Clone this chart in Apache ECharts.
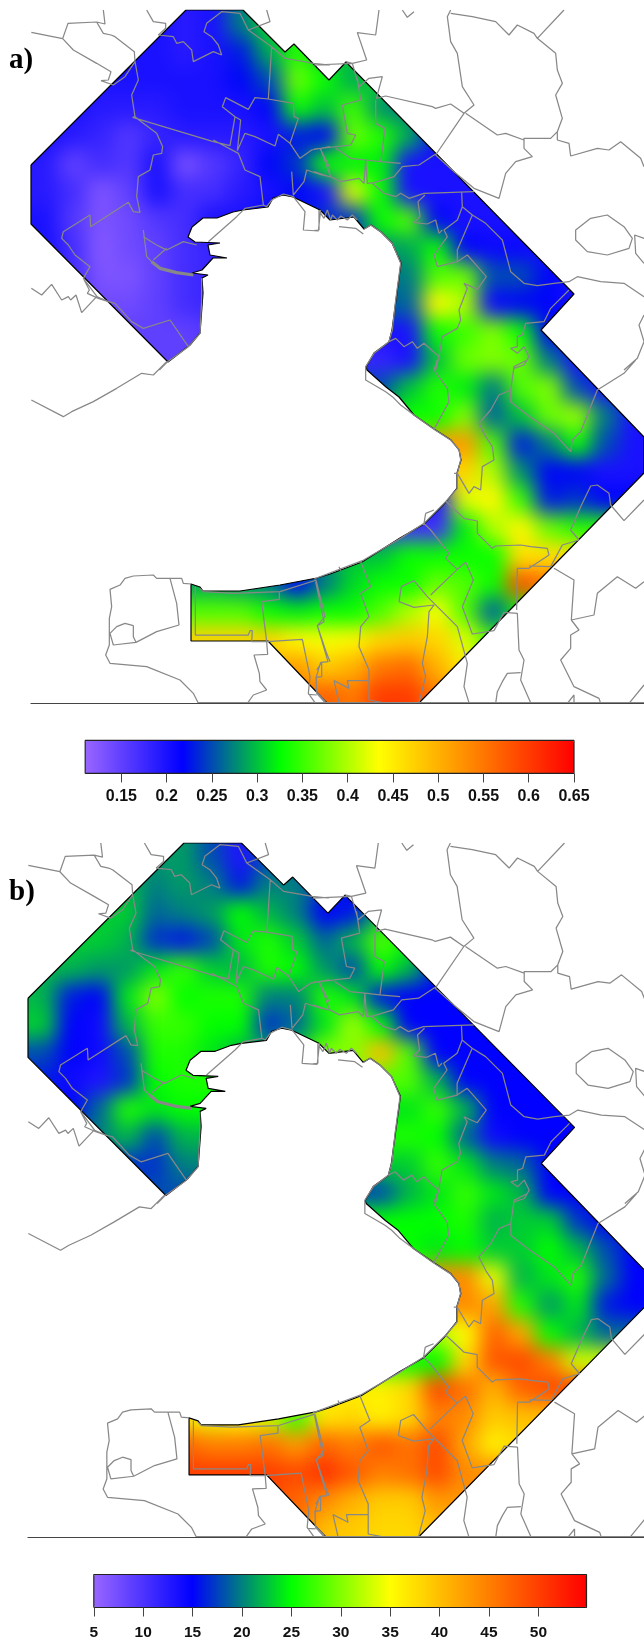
<!DOCTYPE html>
<html><head><meta charset="utf-8">
<style>html,body{margin:0;padding:0;background:#fff;overflow:hidden}#wrap{position:absolute;left:0;top:0;width:644px;height:1639px;overflow:hidden}#c{position:absolute;left:-100px;top:-100px;width:900px;height:1900px}</style>
<script src="https://cdn.jsdelivr.net/npm/echarts@6/dist/echarts.min.js"></script>
</head><body><div id="wrap"><div id="c"></div></div>
<script>
// ---- category axes of the coarse value grid (map px, cell centres)
const columnsX=[45,73,101,129,157,185,213,241,269,297,325,353,381,409,437,465,493,521,549,577,605,633];
const rowsY=[24,52,80,108,136,164,192,220,248,276,304,332,360,388,416,444,472,500,528,556,584,612,640,668,696];
// ---- panel a values
const a024=[.2,.2,.2,.2,.2,.19,.2,.27,.31,.33,.33,.33,.33,.33,.2,.2,.2,.2,.2,.2,.2,.2];
const a052=[.2,.2,.2,.2,.2,.19,.2,.23,.29,.34,.3,.3,.3,.25,.2,.2,.2,.2,.2,.2,.2,.2];
const a080=[.2,.2,.2,.2,.2,.2,.2,.22,.25,.37,.33,.29,.31,.27,.2,.2,.2,.2,.2,.2,.2,.2];
const a108=[.2,.2,.19,.19,.19,.2,.2,.2,.22,.33,.3,.35,.28,.27,.2,.2,.2,.2,.2,.2,.2,.2];
const a136=[.2,.19,.18,.16,.18,.19,.19,.19,.2,.23,.22,.37,.34,.29,.21,.2,.2,.2,.2,.2,.2,.2];
const a164=[.19,.15,.17,.16,.2,.135,.16,.18,.22,.24,.33,.32,.32,.2,.2,.2,.2,.2,.2,.2,.2,.2];
const a192=[.19,.17,.13,.15,.2,.17,.17,.19,.2,.22,.2,.42,.33,.2,.2,.2,.2,.2,.2,.2,.2,.2];
const a220=[.2,.16,.13,.14,.16,.17,.2,.2,.22,.23,.24,.24,.33,.36,.22,.2,.2,.2,.2,.2,.2,.2];
const a248=[.2,.17,.125,.14,.15,.17,.18,.18,.2,.22,.24,.25,.28,.29,.33,.22,.21,.21,.2,.2,.2,.2];
const a276=[.2,.17,.13,.13,.15,.17,.18,.18,.2,.22,.24,.25,.27,.27,.36,.37,.25,.25,.22,.2,.2,.2];
const a304=[.18,.17,.14,.14,.15,.17,.18,.18,.2,.22,.24,.25,.26,.26,.44,.4,.21,.22,.22,.2,.2,.2];
const a332=[.16,.15,.15,.15,.15,.15,.16,.16,.16,.18,.18,.18,.2,.2,.33,.35,.38,.33,.22,.2,.2,.2];
const a360=[.15,.15,.15,.15,.15,.15,.16,.16,.16,.18,.18,.18,.18,.2,.3,.37,.38,.37,.27,.2,.2,.2];
const a388=[.15,.15,.15,.15,.15,.15,.16,.16,.18,.2,.22,.25,.25,.3,.34,.32,.27,.36,.38,.25,.2,.2];
const a416=[.15,.15,.15,.15,.15,.15,.16,.16,.18,.2,.22,.25,.3,.33,.33,.38,.26,.3,.37,.39,.27,.2];
const a444=[.15,.15,.15,.15,.15,.15,.16,.16,.18,.2,.22,.25,.3,.4,.52,.52,.36,.23,.27,.33,.25,.2];
const a472=[.15,.15,.15,.15,.15,.15,.16,.16,.18,.2,.22,.25,.3,.4,.47,.47,.4,.28,.22,.22,.2,.2];
const a500=[.15,.15,.15,.15,.15,.15,.16,.16,.18,.2,.22,.25,.25,.25,.2,.42,.44,.35,.23,.24,.22,.22];
const a528=[.15,.15,.15,.15,.15,.15,.16,.16,.18,.2,.22,.25,.17,.17,.17,.32,.4,.44,.37,.34,.34,.34];
const a556=[.25,.25,.25,.25,.25,.25,.25,.25,.25,.25,.28,.3,.3,.33,.33,.33,.33,.46,.46,.46,.46,.46];
const a584=[.29,.29,.29,.29,.29,.29,.29,.28,.27,.22,.27,.31,.33,.33,.37,.36,.33,.58,.55,.55,.55,.55];
const a612=[.36,.36,.36,.36,.36,.36,.36,.36,.33,.32,.33,.33,.36,.4,.43,.36,.26,.33,.33,.33,.33,.33];
const a640=[.47,.47,.47,.47,.47,.47,.47,.47,.47,.44,.43,.44,.47,.48,.47,.42,.35,.35,.35,.35,.35,.35];
const a668=[.5,.5,.5,.5,.5,.5,.5,.5,.5,.52,.48,.5,.55,.56,.5,.45,.4,.4,.4,.4,.4,.4];
const a696=[.55,.55,.55,.55,.55,.55,.55,.55,.55,.55,.57,.55,.6,.6,.55,.5,.45,.45,.45,.45,.45,.45];
// ---- panel b values
const b024=[21,21,21,21,21,21,18,13,18,18,18,18,18,15,15,15,15,15,15,15,15,15];
const b052=[22,22,22,22,20,21,20,16,20,20,17,15,15,15,15,15,15,15,15,15,15,15];
const b080=[23,23,23,23,19,20,21,25,22,20,15,16,22,22,15,15,15,15,15,15,15,15];
const b108=[23,23,23,22,17,16,18,24,26,23,19,22,28,25,15,15,15,15,15,15,15,15];
const b136=[22,22,21,21,24,27,23,22,26,25,21,18,25,22,16,15,15,15,15,15,15,15];
const b164=[22,16,15,24,30,25,26,26,20,20,26,24,16,15,15,15,15,15,15,15,15,15];
const b192=[23,15,14,22,27,27,25,25,17,19,24,31,25,15,15,15,15,15,15,15,15,15];
const b220=[18,15,14,18,26,26,24,22,22,24,30,30,40,28,15,15,15,15,15,15,15,15];
const b248=[16,14,13,17,25,26,26,26,26,26,30,30,28,28,22,15,15,15,15,15,15,15];
const b276=[16,15,19,26,24,25,25,25,25,25,25,25,24,24,27,22,15,15,15,15,15,15];
const b304=[18,18,20,22,18,22,22,22,22,22,22,22,26,26,25,19,14,15,15,15,15,15];
const b332=[17,17,17,17,17,20,20,20,20,20,20,20,23,23,27,24,20,19,15,15,15,15];
const b360=[18,18,18,18,18,18,18,18,18,18,18,18,18,22,24,27,24,22,15,15,15,15];
const b388=[18,18,18,18,18,18,18,18,18,18,18,25,25,25,25,26,22,23,23,17,15,15];
const b416=[18,18,18,18,18,18,18,18,18,18,18,25,25,25,24,25,23,23,25,22,18,15];
const b444=[18,18,18,18,18,18,18,18,18,18,18,25,25,30,44,44,34,22,24,26,19,15];
const b472=[18,18,18,18,18,18,18,18,18,18,18,25,25,30,44,44,42,26,21,24,16,15];
const b500=[18,18,18,18,18,18,18,18,18,18,18,25,25,32,32,35,47,42,25,22,19,19];
const b528=[30,30,30,30,30,30,30,30,30,30,30,30,25,25,25,38,48,49,45,33,33,33];
const b556=[36,36,36,36,36,36,36,36,36,36,36,36,36,38,49,46,41,47,49,49,49,49];
const b584=[37,37,37,37,37,37,34,35,33,27,37,38,36,38,45,44,39,40,40,40,40,40];
const b612=[47,47,47,47,47,47,45,45,46,43,47,45,48,46,49,42,36,38,38,38,38,38];
const b640=[50,50,50,50,50,50,50,50,50,49,51,48,45,46,49,44,44,44,44,44,44,44];
const b668=[49,49,49,49,49,49,49,49,49,47,44,41,39,39,43,43,43,43,43,43,43,43];
const b696=[46,46,46,46,46,46,46,46,46,46,40,39,38,38,40,40,40,40,40,40,40,40];
const panelAValues=[a024,a052,a080,a108,a136,a164,a192,a220,a248,a276,a304,a332,a360,a388,a416,a444,a472,a500,a528,a556,a584,a612,a640,a668,a696];
const panelBValues=[b024,b052,b080,b108,b136,b164,b192,b220,b248,b276,b304,b332,b360,b388,b416,b444,b472,b500,b528,b556,b584,b612,b640,b668,b696];
// ---- colour bar scales
const ticksA=[0.15,0.2,0.25,0.3,0.35,0.4,0.45,0.5,0.55,0.6,0.65];
const ticksB=[5,10,15,20,25,30,35,40,45,50];
const palette=['#9966FF','#0000FF','#00FF00','#FFFF00','#FF8000','#FF0000'];
// ---- study area outline and coast, in map pixels
const regionOutline=[[31,165],[186,10],[243,10],[285,52],[294,44],[329,80],[346,62],[574,294],[541,330],[644,437],[644,473],[419,703],[327,703],[268,641],[191,641],[191,584],[200,587],[203,591],[240,591],[280,585],[317,578],[330,574],[362,562],[400,538],[424,524],[445,503],[457,488],[457,473],[461,460],[459,450],[451,440],[434,429],[414,415],[399,397],[386,387],[367,370],[366,367],[374,353],[389,342],[392,330],[396,300],[401,263],[392,243],[381,232],[371,225],[364,229],[354,217],[330,220],[320,210],[293,197],[283,195],[273,198],[268,207],[243,210],[233,212],[217,218],[203,218],[192,227],[188,237],[195,242],[220,243],[208,245],[210,255],[227,258],[213,258],[202,270],[192,273],[208,275],[202,278],[203,293],[200,333],[190,345],[168,362],[31,224],[31,165]];
// ---- grey boundaries, traced on four overlapping 3x tiles of the map
const tile1=[
[[94,97],[188,116],[204,70],[290,66],[315,72],[310,30]],
[[290,66],[310,100],[333,105],[345,110],[403,155],[405,185]],
[[188,116],[220,150],[290,190],[333,215],[325,240],[303,242],[340,255],[375,230],[405,185],[415,240],[395,285],[405,350],[398,352],[640,425],[690,437],[705,350],[667,320],[677,293],[745,328],[765,293],[805,297],[815,140],[855,175],[885,180],[940,190],[990,195]],
[[805,297],[880,310],[882,350],[895,355],[870,430],[835,403],[825,438],[765,410],[735,400],[712,452],[722,360],[705,350]],
[[405,350],[420,362],[470,400],[488,440],[485,460],[460,465],[450,510],[415,530],[410,590],[420,637],[400,635],[385,607],[272,680],[270,645],[190,695],[185,715],[205,735],[225,765],[270,800],[250,835],[295,895],[325,905],[345,910],[395,965],[430,985],[510,960],[565,1040]],
[[640,420],[715,460],[735,510],[780,530],[790,615]],
[[440,30],[460,65],[497,70],[497,85],[475,105],[520,110],[530,130],[550,125],[575,150],[580,185],[640,155],[665,165],[655,135],[635,110],[612,95],[620,70],[665,35],[720,40],[745,90],[810,65],[800,30]],
[[745,90],[815,140]],
[[875,515],[880,585],[912,545],[920,510],[965,525],[990,530]],
[[870,430],[900,475],[935,450],[990,440]],
[[960,445],[990,505]],
[[790,615],[800,620],[815,600],[850,582],[880,590],[915,635],[910,690],[955,693],[962,630]],
[[790,615],[735,625],[710,650],[625,725]],
[[430,690],[440,770],[460,790]],
[[430,710],[470,735],[490,745],[500,750],[550,725],[590,735]],
[[460,780],[500,745]],
[[94,865],[125,885],[155,853],[185,900],[205,890],[212,900],[228,885],[245,938],[290,890],[325,905]],
[[250,835],[268,870],[262,880],[295,895]],
[[605,835],[605,900],[600,1000],[565,1040],[503,1085],[478,1110]]];
const tile1Thick=[[[455,785],[480,805],[530,818],[580,825]]];
const tile2=[
[[195,30],[185,105],[130,98],[158,180],[115,190],[95,185]],
[[0,195],[115,190],[135,260],[165,235],[205,230],[187,295],[215,288],[355,320],[365,325],[410,312],[450,340],[365,465],[420,515],[480,565],[555,595],[560,590],[575,520],[605,485],[655,470],[630,445],[630,415],[710,415],[730,395],[745,355],[725,285],[745,250],[730,210],[725,160],[670,115],[750,30]],
[[265,30],[280,52],[300,35]],
[[130,235],[140,300],[85,315],[100,400],[125,405],[110,435],[20,445],[0,447]],
[[185,300],[185,370],[213,385],[200,485],[155,480],[160,550],[180,548],[240,530],[265,500],[315,495],[365,462]],
[[155,480],[110,475],[65,445]],
[[20,447],[50,530],[80,545],[135,535],[150,550],[155,480]],
[[200,485],[260,490]],
[[0,515],[45,530]],
[[175,550],[210,580],[245,590],[260,580],[285,595],[330,580],[480,575]],
[[443,578],[445,620],[475,645],[515,670],[565,720],[590,815],[630,850],[670,857],[720,850],[765,845],[790,830],[860,845],[930,850],[990,890]],
[[445,620],[430,660],[390,690],[400,710],[360,765],[370,800],[430,785],[460,765],[517,830],[490,868],[450,850],[460,865],[435,930],[440,960],[430,985],[385,1010],[375,1070],[365,1110]],
[[475,645],[430,750],[430,785]],
[[333,585],[312,605],[318,650],[300,668],[340,672],[365,660],[375,700],[385,690]],
[[450,340],[480,315],[445,260],[430,160],[410,125],[400,50],[410,30]],
[[410,40],[475,50],[545,65],[585,105],[610,75],[660,100],[670,115]],
[[455,340],[550,405],[575,400],[630,420]],
[[730,395],[730,420],[765,430],[770,468],[850,445],[885,450],[920,425],[980,475],[990,500]],
[[765,870],[710,925],[690,965],[635,970],[625,1005],[610,1010],[610,1040],[590,1045],[610,1060],[630,1040],[645,1070],[630,1095],[600,1105]],
[[830,655],[880,645],[930,680],[955,715],[945,745],[880,765],[820,755],[785,720],[785,690],[830,655]],
[[990,715],[962,705],[965,760],[990,790]],
[[990,945],[975,975],[990,1025],[970,1075],[930,1110]],
[[15,630],[15,690],[0,692]],
[[75,680],[125,685],[148,702]],
[[150,688],[170,675],[200,695],[235,730],[260,790],[245,900],[235,990],[225,1025],[180,1060],[155,1100]],
[[225,1025],[245,1015],[270,1040],[295,1025],[310,1045],[330,1030],[375,1070]],
[[20,640],[30,655],[40,630],[50,660],[55,645],[70,660],[80,648],[100,660],[115,645],[130,660]]];
const tile3=[
[[500,5],[460,45],[425,40],[350,85],[280,125],[215,155],[190,170],[94,120]],
[[574,672],[550,670],[545,655],[470,655],[460,645],[400,648],[375,655],[360,675],[330,688],[335,740],[328,775],[328,855],[317,885],[330,910],[440,920],[540,960],[580,1000],[595,1030]],
[[510,655],[530,730],[537,795],[470,815],[408,847],[340,855],[330,820],[350,800],[375,790],[400,797],[400,830],[408,847]],
[[742,1030],[760,1005],[800,990],[780,965],[778,940],[762,885],[803,883],[800,845]],
[[586,680],[586,825],[745,825],[750,812],[757,812],[755,845],[800,845],[907,838],[930,950],[925,1000],[945,1028]],
[[925,1003],[950,1005]],
[[800,845],[785,725],[838,718],[838,695]],
[[600,685],[610,695],[700,700],[840,695],[950,660]],
[[948,660],[975,770],[952,797],[980,880],[990,905]],
[[950,930],[965,907],[985,905]],
[[965,907],[965,950],[948,952],[950,1000],[975,1028]]];
const tile4=[
[[5,665],[30,785],[10,797],[42,905],[20,907],[7,950],[7,995],[35,1025]],
[[140,605],[170,680],[140,700],[165,770],[140,800],[135,860],[165,930],[165,1020],[205,1028],[310,1028]],
[[60,962],[105,985],[100,962],[165,962]],
[[60,962],[75,1028]],
[[255,725],[262,680],[300,662],[340,710],[430,800],[460,910],[450,980],[465,1028]],
[[255,725],[300,742],[360,735],[345,755],[340,830],[325,910],[335,950],[315,1028]],
[[350,705],[430,628],[455,607],[478,660],[445,740],[475,822],[540,812],[570,757],[610,760],[615,870],[630,900],[620,960],[650,1028]],
[[330,490],[350,510],[405,580],[395,595],[430,628]],
[[395,423],[450,475],[490,483],[490,520],[535,565],[545,558],[620,555],[650,560],[700,565],[705,585],[645,625],[610,625],[608,750]],
[[645,618],[710,620],[745,555],[795,540],[770,510],[800,440],[830,378],[850,375],[885,400],[890,435],[930,482],[990,420]],
[[720,625],[780,660],[772,780],[840,765],[850,700],[910,650],[965,685],[990,665]],
[[772,780],[795,810],[770,825],[770,865],[740,900],[780,980],[855,1015],[860,1030]],
[[545,1030],[550,995],[565,965],[580,940],[620,938]],
[[760,1030],[780,1005],[780,1030]],
[[945,1030],[990,975]],
[[965,0],[930,40],[850,90],[800,215],[775,240],[770,275],[720,220],[640,165],[590,125],[590,90],[555,105],[530,150],[495,190],[515,230],[535,260],[540,300],[505,320],[500,390],[480,380],[465,400],[430,340],[420,340]],
[[360,208],[405,125],[400,85],[360,30],[370,0]],
[[640,0],[600,20],[590,90]],
[[155,20],[155,60],[215,95],[235,110],[260,135],[300,165],[360,208],[410,240],[436,270],[440,300],[430,340]],
[[0,657],[145,602],[260,535],[330,490],[395,425],[430,385],[430,340]],
[[335,460],[360,450]],[[330,490],[335,460]],
[[75,620],[80,632]]];
const bottomEdge=[[198,702.7],[660,702.7]];

// ---- building
const SHIFT=100, CELL=28, EXTRA=3;
function joinLines(groups){const out=[];groups.forEach(g=>{g.forEach(p=>out.push(p));out.push(['-','-']);});return out;}
const fromTile=(lines,ox,oy)=>lines.map(l=>l.map(p=>[ox+p[0]/3,oy+p[1]/3]));
const greyThin=joinLines([].concat(fromTile(tile1,0,0),fromTile(tile2,314,0),fromTile(tile3,0,360),fromTile(tile4,314,360),[bottomEdge]));
const greyThick=joinLines(fromTile(tile1Thick,0,0));
function heatCells(rows){const d=[];const R=rows.length,C=rows[0].length;
 for(let r=-EXTRA;r<R+EXTRA;r++)for(let c=-EXTRA;c<C+EXTRA;c++){
  d.push([c+EXTRA,r+EXTRA,rows[Math.min(R-1,Math.max(0,r))][Math.min(C-1,Math.max(0,c))]]);}
 return d;}
const idx=n=>Array.from({length:n},(_,i)=>String(i));
const nX=columnsX.length+2*EXTRA,nY=rowsY.length+2*EXTRA;
const hidden={show:false};
function panel(i,P){
 const g=i*3;
 return {grids:[
  {left:SHIFT+P.left-EXTRA*CELL,top:SHIFT+P.top-EXTRA*CELL,width:nX*CELL*P.sx,height:nY*CELL,show:false},
  {left:SHIFT+P.left,top:SHIFT+P.top,width:P.width,height:P.height,show:false,zlevel:1},
  {left:SHIFT+P.barLeft,top:SHIFT+P.barTop,width:P.barLen,height:33,show:false,zlevel:1}],
 xs:[
  {type:'category',gridIndex:g,data:idx(nX),show:false},
  {type:'value',gridIndex:g+1,min:31,max:644,position:'bottom',zlevel:1,z:8,splitLine:hidden,axisTick:hidden,axisLabel:hidden,axisLine:{show:true,onZero:false,lineStyle:{color:'#444',width:1.2}}},
  {type:'value',gridIndex:g+2,min:P.min,max:P.max,position:'bottom',zlevel:1,z:10,splitLine:hidden,
   axisLine:{show:false},
   axisTick:{show:true,length:9,customValues:P.ticks,lineStyle:{color:'#444',width:1}},
   axisLabel:{show:true,customValues:P.ticks,margin:P.labelMargin,showMinLabel:true,showMaxLabel:true,hideOverlap:false,fontFamily:'Liberation Sans',fontWeight:'bold',fontSize:P.labelSize,color:'#111'}}],
 ys:[
  {type:'category',gridIndex:g,data:idx(nY),inverse:true,show:false},
  {type:'value',gridIndex:g+1,min:10,max:703,inverse:true,show:false},
  {type:'value',gridIndex:g+2,min:0,max:1,show:false}],
 vm:{type:'continuous',seriesIndex:i*6,dimension:2,min:P.min,max:P.max,inRange:{color:palette},orient:'horizontal',left:SHIFT+P.barLeft,top:SHIFT+P.barTop,itemWidth:33,itemHeight:P.barLen,padding:0,text:null,showLabel:false,calculable:false,hoverLink:false,zlevel:1,z:6},
 series:[
  {type:'heatmap',xAxisIndex:g,yAxisIndex:g,data:heatCells(P.values),silent:true,progressive:0,animation:false,zlevel:0},
  {type:'custom',xAxisIndex:g+1,yAxisIndex:g+1,data:regionOutline,clip:false,silent:true,animation:false,zlevel:1,z:2,
   renderItem(params,api){ if(params.dataIndex!==0) return null;
    const ring=regionOutline.map(p=>api.coord(p)).reverse();
    const a=api.coord([-100,P.maskTop]),b=api.coord([800,P.maskTop]),c=api.coord([800,P.maskBottom]),d=api.coord([-100,P.maskBottom]);
    // outer rectangle with the study area cut out through a seam
    const pts=[a,b,c,d,a].concat(ring).concat([ring[0],a]);
    return {type:'polygon',shape:{points:pts},style:{fill:'#fff'}};
   },encode:{x:0,y:1}},
  {type:'line',xAxisIndex:g+1,yAxisIndex:g+1,data:regionOutline,symbol:'none',clip:true,silent:true,animation:false,zlevel:1,z:3,lineStyle:{color:'#000',width:1.2}},
  {type:'line',xAxisIndex:g+1,yAxisIndex:g+1,data:greyThin,symbol:'none',clip:true,silent:true,animation:false,connectNulls:false,zlevel:1,z:4,lineStyle:{color:'#888',width:1.25}},
  {type:'line',xAxisIndex:g+1,yAxisIndex:g+1,data:greyThick,symbol:'none',clip:true,silent:true,animation:false,connectNulls:false,zlevel:1,z:4,lineStyle:{color:'#888',width:3.2}},
  {type:'line',xAxisIndex:g+2,yAxisIndex:g+2,data:[[P.min,0],[P.max,0],[P.max,1],[P.min,1],[P.min,0]],symbol:'none',clip:false,silent:true,animation:false,zlevel:1,z:9,lineStyle:{color:'#222',width:1.2}}
 ]};
}
const A=panel(0,{left:31,top:10,width:613,height:693,sx:1,barLeft:85.2,barTop:740.4,barLen:488.8,min:0.11,max:0.65,ticks:ticksA,values:panelAValues,maskTop:-120,maskBottom:800,labelSize:16,labelMargin:15});
const B=panel(1,{left:28,top:843,width:617,height:694,sx:1.0065,barLeft:93.8,barTop:1574.5,barLen:492.7,min:5,max:54.87,ticks:ticksB,values:panelBValues,maskTop:-33,maskBottom:1000,labelSize:15.5,labelMargin:17});
const chart=echarts.init(document.getElementById('c'),null,{renderer:'canvas'});
const panelText=(t,x,y)=>({type:'text',left:SHIFT+x,top:SHIFT+y,zlevel:1,z:20,silent:true,style:{text:t,font:'bold 29px "Liberation Serif"',fill:'#000'}});
chart.setOption({
 animation:false,tooltip:{show:false},
 grid:[...A.grids,...B.grids],xAxis:[...A.xs,...B.xs],yAxis:[...A.ys,...B.ys],
 visualMap:[A.vm,B.vm],series:[...A.series,...B.series],
 graphic:[panelText('a)',9,46),panelText('b)',9,878)]
});
// smooth the coarse value cells: only the bottom canvas layer holds the heat cells
const layer=chart.getZr().painter.getLayer(0);
if(layer&&layer.dom) layer.dom.style.filter='blur(10px)';
</script></body></html>
